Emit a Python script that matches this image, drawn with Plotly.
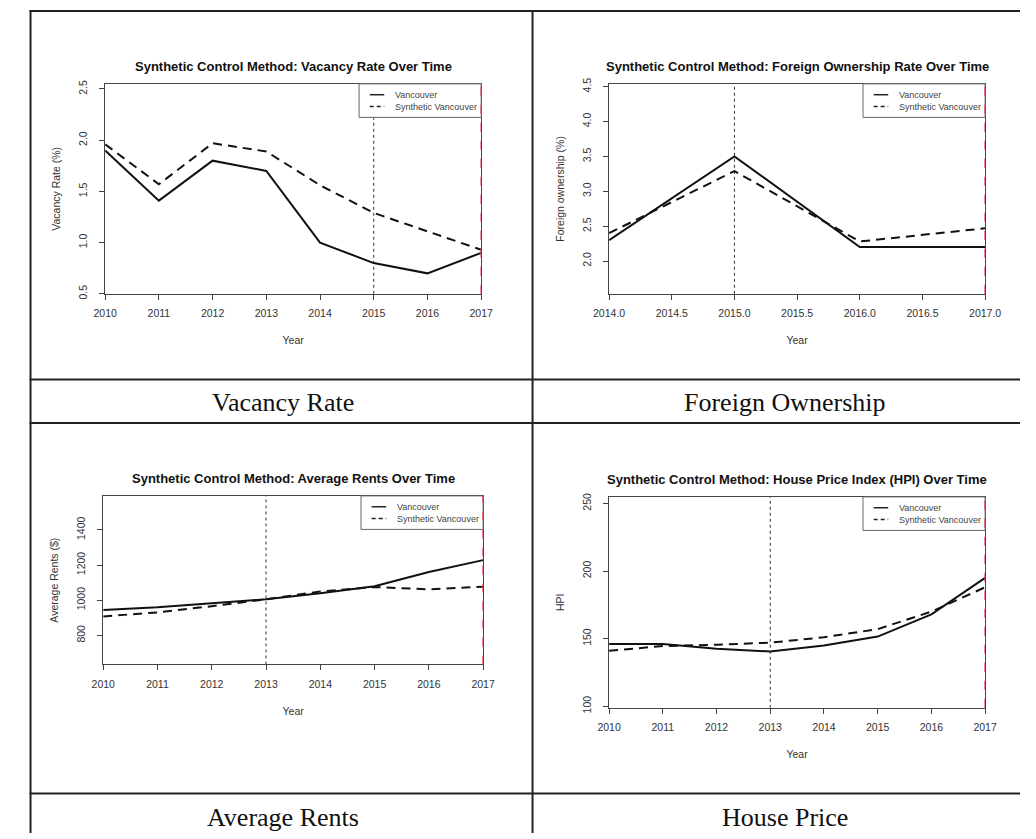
import plotly.graph_objects as go

W, H = 1036, 839

# ---------------- data ----------------
years = [2010, 2011, 2012, 2013, 2014, 2015, 2016, 2017]
vac_van = [1.9, 1.41, 1.8, 1.7, 1.0, 0.8, 0.7, 0.9]
vac_syn = [1.96, 1.57, 1.97, 1.89, 1.56, 1.29, 1.11, 0.93]

years_fo = [2014, 2015, 2016, 2017]
fo_van = [2.3, 3.5, 2.2, 2.2]
fo_syn = [2.4, 3.29, 2.28, 2.47]

rent_van = [945, 960, 983, 1005, 1039, 1080, 1160, 1228]
rent_syn = [908, 931, 966, 1005, 1050, 1075, 1062, 1077]

hpi_van = [146, 146, 142.5, 140.5, 145, 151.5, 168, 195]
hpi_syn = [141, 144.5, 145.5, 147, 151, 157, 170, 188]

titles = [
    "Synthetic Control Method: Vacancy Rate Over Time",
    "Synthetic Control Method: Foreign Ownership Rate Over Time",
    "Synthetic Control Method: Average Rents Over Time",
    "Synthetic Control Method: House Price Index (HPI) Over Time",
]
ytitles = ["Vacancy Rate (%)", "Foreign ownership (%)", "Average Rents ($)", "HPI"]
captions = ["Vacancy Rate", "Foreign Ownership", "Average Rents", "House Price"]
series_names = ["Vancouver", "Synthetic Vancouver"]

# ---------------- layout helpers ----------------
def px_x(p):
    return p / W

def px_y(p):
    return 1 - p / H

# plot boxes in pixels: (left, right, top, bottom)
boxes = [(92, 480, 79, 292), (612, 1000, 79, 292), (90, 482, 497, 668), (612, 1000, 498, 712)]
xranges = [[2010, 2017], [2014, 2017], [2010, 2017], [2010, 2017]]
yranges = [[0.5, 2.55], [1.53, 4.54], [635, 1593], [98.8, 254.9]]
ytickvals = [[0.5, 1.0, 1.5, 2.0, 2.5], [2.0, 2.5, 3.0, 3.5, 4.0, 4.5],
             [800, 1000, 1200, 1400], [100, 150, 200, 250]]
yticktext = [["0.5", "1.0", "1.5", "2.0", "2.5"], ["2.0", "2.5", "3.0", "3.5", "4.0", "4.5"],
             ["800", "1000", "1200", "1400"], ["100", "150", "200", "250"]]
xtickvals = [years, [2014.0, 2014.5, 2015.0, 2015.5, 2016.0, 2016.5, 2017.0], years, years]
xticktext = [[str(y) for y in years],
             ["2014.0", "2014.5", "2015.0", "2015.5", "2016.0", "2016.5", "2017.0"],
             [str(y) for y in years], [str(y) for y in years]]
treat = [2015, 2015, 2013, 2013]

xs = [years, years_fo, years, years]
van = [vac_van, fo_van, rent_van, hpi_van]
syn = [vac_syn, fo_syn, rent_syn, hpi_syn]

SANS = "Liberation Sans, Arial, sans-serif"
SERIF = "Liberation Serif, Times New Roman, serif"
TXT = "#333"

fig = go.Figure()
layout = dict(
    width=W, height=H,
    margin=dict(l=0, r=0, t=0, b=0),
    paper_bgcolor="white", plot_bgcolor="white",
    showlegend=False,
    font=dict(family=SANS, color=TXT),
)
annotations = []
shapes = []

for i in range(4):
    sfx = "" if i == 0 else str(i + 1)
    xa, ya = "x" + sfx, "y" + sfx
    l, r, t, b = boxes[i]
    fig.add_trace(go.Scatter(x=xs[i], y=van[i], mode="lines", name=series_names[0],
                             line=dict(color="#111", width=2), xaxis=xa, yaxis=ya))
    fig.add_trace(go.Scatter(x=xs[i], y=syn[i], mode="lines", name=series_names[1],
                             line=dict(color="#111", width=2, dash="9px,6px"),
                             xaxis=xa, yaxis=ya))
    axis_common = dict(showline=True, mirror=True, linecolor="#444", linewidth=1,
                       ticks="outside", ticklen=5, tickcolor="#444", tickwidth=1,
                       showgrid=False, zeroline=False,
                       tickfont=dict(family=SANS, size=10.5, color=TXT))
    layout["xaxis" + sfx] = dict(
        domain=[px_x(l), px_x(r)], anchor=ya, range=xranges[i],
        tickmode="array", tickvals=xtickvals[i], ticktext=xticktext[i],
        title=dict(text="Year", font=dict(family=SANS, size=10.5, color=TXT), standoff=18),
        ticklabelstandoff=5,
        **axis_common)
    layout["yaxis" + sfx] = dict(
        domain=[px_y(b), px_y(t)], anchor=xa, range=yranges[i],
        tickmode="array", tickvals=ytickvals[i], ticktext=yticktext[i], tickangle=-90,
        title=dict(text=ytitles[i], font=dict(family=SANS, size=10.5, color=TXT), standoff=14),
        ticklabelstandoff=8,
        **axis_common)
    # plot title
    annotations.append(dict(text="<b>" + titles[i] + "</b>", xref="paper", yref="paper",
                            x=px_x((l + r) / 2), y=px_y(t - 18), xanchor="center", yanchor="middle",
                            showarrow=False, font=dict(family=SANS, size=13, color="#111")))
    # treatment (dotted) vertical line, drawn beneath the legend box
    shapes.append(dict(type="line", xref=xa, yref=ya + " domain", x0=treat[i], x1=treat[i],
                       y0=0, y1=1, line=dict(color="#333", width=1, dash="dot"), layer="below"))
    # legend box (R-style legend in the top-right corner)
    lg_l, lg_r, lg_t, lg_b = r - 126, r, t, t + 34
    shapes.append(dict(type="rect", xref="paper", yref="paper",
                       x0=px_x(lg_l), x1=px_x(lg_r), y0=px_y(lg_b), y1=px_y(lg_t),
                       fillcolor="white", line=dict(color="#666", width=1), layer="above"))
    for k, (nm, dsh) in enumerate(zip(series_names, ["solid", "4px,3px"])):
        yy = lg_t + 11 + 12 * k
        shapes.append(dict(type="line", xref="paper", yref="paper",
                           x0=px_x(lg_l + 11), x1=px_x(lg_l + 26), y0=px_y(yy), y1=px_y(yy),
                           line=dict(color="#222", width=1.5, dash=dsh), layer="above"))
        annotations.append(dict(text=nm, xref="paper", yref="paper", x=px_x(lg_l + 35), y=px_y(yy),
                                xanchor="left", yanchor="middle", showarrow=False,
                                font=dict(family=SANS, size=9, color="#444")))
    # end-of-period (red dashed) vertical line
    shapes.append(dict(type="line", xref=xa, yref=ya + " domain", x0=xranges[i][1], x1=xranges[i][1],
                       y0=0, y1=1, line=dict(color="#f03a5a", width=1.5, dash="dash"), layer="above"))

# captions
cap_pos = [(275, 402), (793, 402), (275, 823), (793, 823)]
for c, (cx, cy) in zip(captions, cap_pos):
    annotations.append(dict(text=c, xref="paper", yref="paper", x=px_x(cx), y=px_y(cy),
                            xanchor="center", yanchor="middle", showarrow=False,
                            font=dict(family=SERIF, size=26, color="#111")))

# table rules
BC = "#222"
for yy in [5, 379, 423, 799]:
    shapes.append(dict(type="line", xref="paper", yref="paper", x0=px_x(14), x1=1.0,
                       y0=px_y(yy), y1=px_y(yy), line=dict(color=BC, width=2)))
for xx in [15, 533]:
    shapes.append(dict(type="line", xref="paper", yref="paper", x0=px_x(xx), x1=px_x(xx),
                       y0=px_y(4), y1=0.0, line=dict(color=BC, width=2)))

layout["annotations"] = annotations
layout["shapes"] = shapes
fig.update_layout(**layout)
fig.write_html("out.html")
